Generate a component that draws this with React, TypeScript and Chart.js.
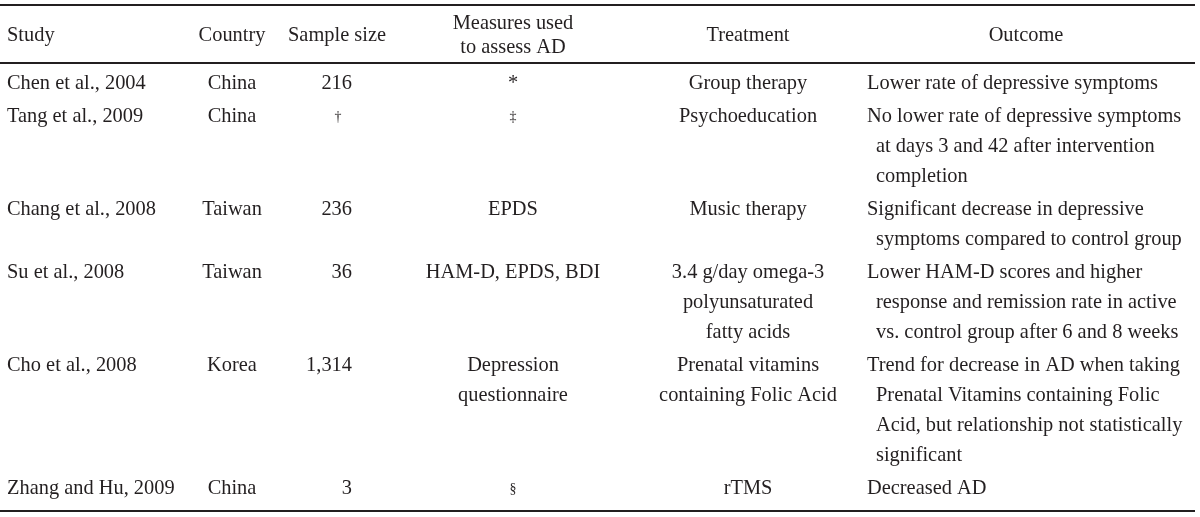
import React, { useEffect, useRef } from "react";
import { Chart, registerables } from "chart.js";

Chart.register(...registerables);

// ---- table content ----
const headers = ["Study", "Country", "Sample size", "Measures used\nto assess AD", "Treatment", "Outcome"];
const studies = ["Chen et al., 2004", "Tang et al., 2009", "Chang et al., 2008", "Su et al., 2008", "Cho et al., 2008", "Zhang and Hu, 2009"];
const countries = ["China", "China", "Taiwan", "Taiwan", "Korea", "China"];
const sampleSizes = ["216", "†", "236", "36", "1,314", "3"];
const measures = [["*"], ["‡"], ["EPDS"], ["HAM-D, EPDS, BDI"], ["Depression", "questionnaire"], ["§"]];
const treatments = [
  ["Group therapy"],
  ["Psychoeducation"],
  ["Music therapy"],
  ["3.4 g/day omega-3", "polyunsaturated", "fatty acids"],
  ["Prenatal vitamins", "containing Folic Acid"],
  ["rTMS"],
];
const outcomes = [
  ["Lower rate of depressive symptoms"],
  ["No lower rate of depressive symptoms", "at days 3 and 42 after intervention", "completion"],
  ["Significant decrease in depressive", "symptoms compared to control group"],
  ["Lower HAM-D scores and higher", "response and remission rate in active", "vs. control group after 6 and 8 weeks"],
  ["Trend for decrease in AD when taking", "Prenatal Vitamins containing Folic", "Acid, but relationship not statistically", "significant"],
  ["Decreased AD"],
];

// ---- layout (scale units = page pixels) ----
const W = 1200;
const H = 517;
const colAnchor = [7, 232, 352, 513, 748, 867];
const colAlign: CanvasTextAlign[] = ["left", "center", "right", "center", "center", "left"];
const headerAlign: CanvasTextAlign[] = ["left", "center", "center", "center", "center", "center"];
const headerAnchor = [7, 232, 337, 513, 748, 1026];
const markAnchorSample = 338;
const outcomeIndent = 9;
const headerCenter = 36;
const headerPitch = 24;
const firstLine = 84;
const linePitch = 30;
const rowGap = 33;
const ruleTop = 5;
const ruleHeader = 63;
const ruleBottom = 511;
const ruleLeft = 0;
const ruleRight = 1195;
const INK = "#231f20";
const FONT = '"Liberation Serif", "Times New Roman", serif';
const FONT_SIZE = 20.4;
const MARK_SIZE = 14;

const isMark = (s: string) => s === "†" || s === "‡" || s === "§";

export default function App() {
  const ref = useRef<HTMLCanvasElement | null>(null);

  useEffect(() => {
    document.body.style.margin = "0";
    const canvas = ref.current!;

    const tablePlugin = {
      id: "tableText",
      afterDatasetsDraw(chart: any) {
        const { ctx } = chart;
        const xs = chart.scales.x;
        const ys = chart.scales.y;
        ctx.save();
        ctx.fillStyle = INK;
        ctx.textBaseline = "middle";
        const put = (t: string, x: number, y: number, align: CanvasTextAlign) => {
          ctx.font = `${isMark(t) ? MARK_SIZE : FONT_SIZE}px ${FONT}`;
          ctx.textAlign = align;
          ctx.fillText(t, xs.getPixelForValue(x), ys.getPixelForValue(y));
        };
        // headers
        headers.forEach((h, c) => {
          const parts = h.split("\n");
          parts.forEach((p, k) => {
            const y = headerCenter + (k - (parts.length - 1) / 2) * headerPitch;
            put(p, headerAnchor[c], y, headerAlign[c]);
          });
        });
        // body
        let y0 = firstLine;
        studies.forEach((s, i) => {
          const cells: string[][] = [[s], [countries[i]], [sampleSizes[i]], measures[i], treatments[i], outcomes[i]];
          const n = Math.max(...cells.map((c) => c.length));
          cells.forEach((lines, c) => {
            lines.forEach((t, k) => {
              let x = colAnchor[c] + (c === 5 && k > 0 ? outcomeIndent : 0);
              let align = colAlign[c];
              if (c === 2 && isMark(t)) {
                x = markAnchorSample;
                align = "center";
              }
              put(t, x, y0 + k * linePitch, align);
            });
          });
          y0 += (n - 1) * linePitch + rowGap;
        });
        ctx.restore();
      },
    };

    const rule = (y: number) => ({
      type: "line" as const,
      data: [
        { x: ruleLeft, y },
        { x: ruleRight, y },
      ],
      borderColor: INK,
      borderWidth: 2,
      pointRadius: 0,
      fill: false,
    });

    const chart = new Chart(canvas, {
      type: "line",
      data: { datasets: [rule(ruleTop), rule(ruleHeader), rule(ruleBottom)] as any },
      options: {
        animation: false,
        responsive: false,
        devicePixelRatio: 1,
        layout: { padding: 0 },
        plugins: { legend: { display: false }, tooltip: { enabled: false } },
        scales: {
          x: { type: "linear", min: 0, max: W, display: false },
          y: { type: "linear", min: 0, max: H, reverse: true, display: false },
        },
      },
      plugins: [tablePlugin],
    });
    return () => chart.destroy();
  }, []);

  return (
    <div style={{ width: W, height: H, background: "#fff" }}>
      <canvas ref={ref} width={W} height={H} style={{ display: "block", width: W, height: H }} />
    </div>
  );
}
